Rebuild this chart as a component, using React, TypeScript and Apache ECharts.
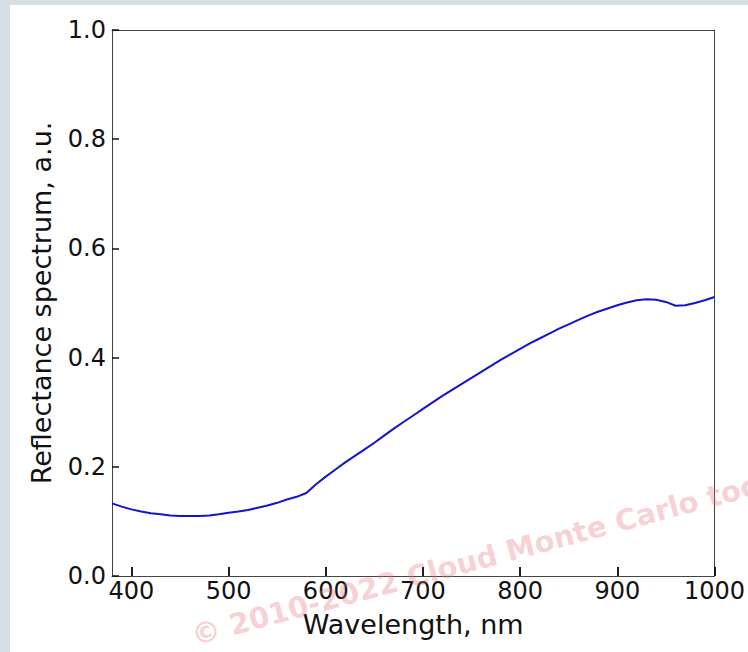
import React, { useEffect, useRef } from "react";
import * as echarts from "echarts";

const wavelengths = [
  380, 390, 400, 410, 420, 430, 440, 450, 460, 470, 480, 490, 500, 510, 520, 530, 540, 550, 560, 570,
  580, 590, 600, 610, 620, 630, 640, 650, 660, 670, 680, 690, 700, 710, 720, 730, 740, 750, 760, 770,
  780, 790, 800, 810, 820, 830, 840, 850, 860, 870, 880, 890, 900, 910, 920, 930, 940, 950, 960, 970,
  980, 990, 1000,
];
const reflectance = [
  0.133, 0.127, 0.122, 0.118, 0.115, 0.113, 0.111, 0.11, 0.11, 0.11, 0.111, 0.113, 0.116, 0.118, 0.121,
  0.125, 0.129, 0.134, 0.14, 0.145, 0.152, 0.168, 0.182, 0.195, 0.208, 0.22, 0.232, 0.244, 0.257, 0.27,
  0.282, 0.294, 0.306, 0.318, 0.33, 0.341, 0.352, 0.363, 0.374, 0.385, 0.396, 0.406, 0.416, 0.426, 0.435,
  0.444, 0.453, 0.461, 0.469, 0.477, 0.484, 0.49, 0.496, 0.501, 0.505, 0.507, 0.506, 0.502, 0.495, 0.496,
  0.5, 0.505, 0.511,
];
const xTicks = [400, 500, 600, 700, 800, 900, 1000];
const xTitle = "Wavelength, nm";
const yTitle = "Reflectance spectrum, a.u.";
const watermark = "© 2010-2022 Cloud Monte Carlo tool";

export default function App() {
  const ref = useRef<HTMLDivElement>(null);
  useEffect(() => {
    if (!ref.current) return;
    const chart = echarts.init(ref.current, null, { renderer: "svg" });
    const font = "DejaVu Sans";
    const spine = { show: true, onZero: false, lineStyle: { color: "#444", width: 1 } };
    chart.setOption({
      animation: false,
      backgroundColor: "#ffffff",
      grid: { left: 112, top: 30, width: 603, height: 546 },
      xAxis: [
        {
          type: "value",
          position: "bottom",
          min: 380,
          max: 1000,
          name: xTitle,
          nameLocation: "middle",
          nameGap: 35,
          nameTextStyle: { fontFamily: font, fontSize: 27, color: "#111" },
          axisLine: spine,
          axisTick: {
            show: true,
            inside: true,
            length: 9,
            customValues: xTicks,
            lineStyle: { color: "#111", width: 1.5 },
          },
          axisLabel: {
            customValues: xTicks,
            fontFamily: font,
            fontSize: 24,
            color: "#111",
            margin: 3,
            formatter: (v: number) => String(v),
          },
          splitLine: { show: false },
        },
        {
          type: "value",
          position: "top",
          min: 380,
          max: 1000,
          axisLine: spine,
          axisTick: { show: false },
          axisLabel: { show: false },
          splitLine: { show: false },
        },
      ],
      yAxis: [
        {
          type: "value",
          position: "left",
          min: 0,
          max: 1,
          interval: 0.2,
          name: yTitle,
          nameLocation: "middle",
          nameRotate: 90,
          nameGap: 57,
          nameTextStyle: { fontFamily: font, fontSize: 27, color: "#111" },
          axisLine: spine,
          axisTick: { show: true, inside: true, length: 7, lineStyle: { color: "#111", width: 1.5 } },
          axisLabel: {
            fontFamily: font,
            fontSize: 24,
            color: "#111",
            margin: 6,
            formatter: (v: number) => v.toFixed(1),
          },
          splitLine: { show: false },
        },
        {
          type: "value",
          position: "right",
          min: 0,
          max: 1,
          interval: 0.2,
          axisLine: spine,
          axisTick: { show: false },
          axisLabel: { show: false },
          splitLine: { show: false },
        },
      ],
      graphic: [
        { type: "rect", shape: { x: 0, y: 0, width: 10, height: 652 }, style: { fill: "#d5dde5" }, z: 100 },
        { type: "rect", shape: { x: 0, y: 0, width: 748, height: 5 }, style: { fill: "#d5dde5" }, z: 100 },
        {
          type: "text",
          x: 196,
          y: 650,
          rotation: (15 * Math.PI) / 180,
          z: 1,
          style: {
            text: watermark,
            font: "bold 29px 'DejaVu Sans'",
            fill: "rgba(232, 110, 120, 0.32)",
            textAlign: "left",
            textVerticalAlign: "bottom",
          },
        },
      ],
      series: [
        {
          type: "line",
          data: wavelengths.map((w, i) => [w, reflectance[i]]),
          showSymbol: false,
          smooth: false,
          lineStyle: { color: "#1414cc", width: 2 },
          z: 3,
          markLine: {
            silent: true,
            symbol: "none",
            label: { show: false },
            lineStyle: { color: "#111", width: 1.5, type: "solid" },
            data: xTicks.map((t) => [{ coord: [t, 0] }, { coord: [t, 0.0165] }]),
          },
        },
      ],
    });
    return () => chart.dispose();
  }, []);
  return (
    <div style={{ position: "fixed", left: 0, top: 0, width: 748, height: 652 }}>
      <div ref={ref} style={{ width: 748, height: 652 }} />
    </div>
  );
}
